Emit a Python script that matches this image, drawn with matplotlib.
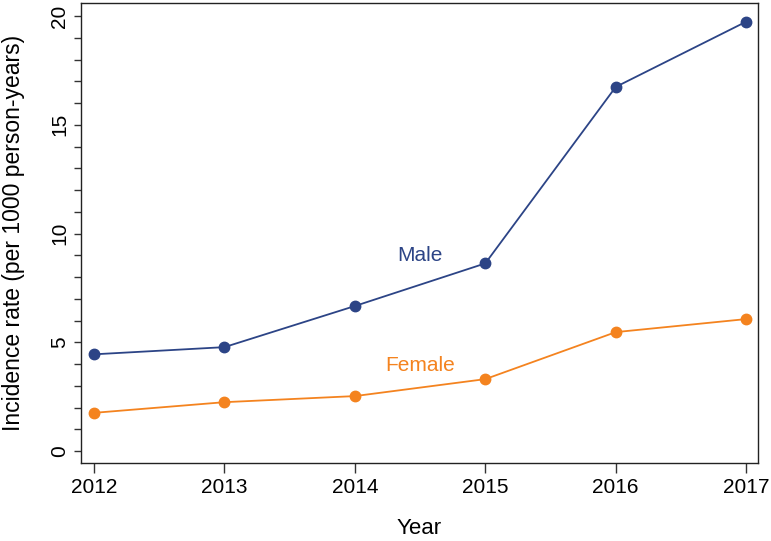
import matplotlib.pyplot as plt
from matplotlib.ticker import MultipleLocator

plt.rcParams['font.family'] = ['Liberation Sans', 'DejaVu Sans']

years = [2012, 2013, 2014, 2015, 2016, 2017]
male = [4.45, 4.78, 6.67, 8.63, 16.74, 19.74]
female = [1.76, 2.25, 2.53, 3.31, 5.47, 6.07]

navy = '#2c4486'
orange = '#f4831f'

fig = plt.figure(figsize=(7.71, 5.41), dpi=100)
ax = fig.add_axes([0.105, 0.144, 0.878, 0.8505])

ax.plot(years, male, color=navy, lw=1.3, marker='o', ms=7.5)
ax.plot(years, female, color=orange, lw=1.3, marker='o', ms=7.5)

ax.text(2014.5, 8.97, 'Male', color=navy, fontsize=15, ha='center', va='center')
ax.text(2014.5, 3.95, 'Female', color=orange, fontsize=15, ha='center', va='center')

ax.set_xlim(2011.9, 2017.09)
ax.set_ylim(-0.55, 20.6)
ax.set_xticks(years)
ax.set_yticks([0, 5, 10, 15, 20])
ax.yaxis.set_minor_locator(MultipleLocator(1))
ax.tick_params(labelsize=15, length=5, width=1, color='#333333')
ax.tick_params(axis='y', which='minor', length=5, width=1, color='#333333')
ax.tick_params(axis='x', length=7)
plt.setp(ax.get_yticklabels(), rotation=90, va='center')

ax.set_xlabel('Year', fontsize=16)
ax.set_ylabel('Incidence rate (per 1000 person-years)', fontsize=16.5)
ax.xaxis.set_label_coords(0.5, -0.12)
ax.yaxis.set_label_coords(-0.082, 0.5)
for s in ax.spines.values():
    s.set_color('#222222')
    s.set_linewidth(1)

fig.savefig('out.png', dpi=100)
